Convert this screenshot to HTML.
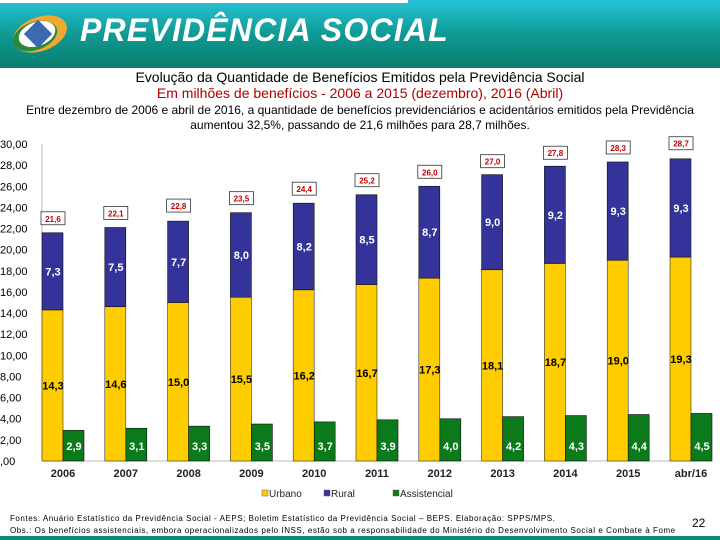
<!DOCTYPE html>
<html><head><meta charset="utf-8"><style>
body{margin:0;width:720px;height:540px;overflow:hidden;background:#fff;font-family:"Liberation Sans",sans-serif;position:relative}
.hdr{position:absolute;left:0;top:0;width:720px;height:68px;background:linear-gradient(#27c4d6,#0f9a94 50%,#0a7d6e)}
.t{position:absolute;width:720px;text-align:center}
</style></head><body>
<div class="hdr">
<div style="position:absolute;left:0;top:0;width:408px;height:3px;background:#fff"></div>
<svg width="75" height="68" style="position:absolute;left:0;top:0">
<ellipse cx="40" cy="34" rx="28" ry="17" fill="#f0a830" transform="rotate(-20 40 34)"/>
<ellipse cx="35" cy="36" rx="23" ry="14" fill="#2a8a3a" transform="rotate(-20 35 36)"/>
<ellipse cx="37" cy="34" rx="19" ry="12" fill="#fff" transform="rotate(-20 37 34)"/>
<rect x="28" y="24" width="20" height="20" fill="#3a6ab0" transform="rotate(45 38 34)"/>
</svg>
<div style="position:absolute;left:80px;top:12px;font-size:32px;font-weight:bold;font-style:italic;color:#fff;letter-spacing:1.2px">PREVIDÊNCIA SOCIAL</div>
</div>
<div class="t" style="top:69px;font-size:14px;color:#000">Evolução da Quantidade de Benefícios Emitidos pela Previdência Social</div>
<div class="t" style="top:85px;font-size:14px;color:#b00000">Em milhões de benefícios - 2006 a 2015 (dezembro), 2016 (Abril)</div>
<div class="t" style="top:103px;font-size:12px;color:#000;line-height:15px">Entre dezembro de 2006 e abril de 2016, a quantidade de benefícios previdenciários e acidentários emitidos pela Previdência<br>aumentou 32,5%, passando de 21,6 milhões para 28,7 milhões.</div>
<svg id="chart" width="720" height="540" style="position:absolute;left:0;top:0"></svg>
<div style="position:absolute;left:10px;top:513px;font-size:8px;line-height:12px;color:#000;letter-spacing:0.55px;white-space:nowrap">Fontes: Anuário Estatístico da Previdência Social - AEPS; Boletim Estatístico da Previdência Social – BEPS. Elaboração: SPPS/MPS.<br>Obs.: Os benefícios assistenciais, embora operacionalizados pelo INSS, estão sob a responsabilidade do Ministério do Desenvolvimento Social e Combate à Fome</div>
<div style="position:absolute;left:692px;top:516px;font-size:12px">22</div>
<div style="position:absolute;left:0;top:536px;width:720px;height:4px;background:#0a8a78"></div>
<script>
const categories=["2006","2007","2008","2009","2010","2011","2012","2013","2014","2015","abr/16"];
const urbano=[14.3,14.6,15.0,15.5,16.2,16.7,17.3,18.1,18.7,19.0,19.3];
const rural=[7.3,7.5,7.7,8.0,8.2,8.5,8.7,9.0,9.2,9.3,9.3];
const assistencial=[2.9,3.1,3.3,3.5,3.7,3.9,4.0,4.2,4.3,4.4,4.5];
const totals=[21.6,22.1,22.8,23.5,24.4,25.2,26.0,27.0,27.8,28.3,28.7];
const yTicks=[0,2,4,6,8,10,12,14,16,18,20,22,24,26,28,30];
const svg=document.getElementById('chart');const NS='http://www.w3.org/2000/svg';
const y=v=>461-v*(317/30);
const x=i=>42+i*62.8;
const fmt=v=>v.toFixed(1).replace('.',',');
function mk(t,a,txt){const e=document.createElementNS(NS,t);for(const k in a)e.setAttribute(k,a[k]);if(txt!==undefined)e.textContent=txt;svg.appendChild(e);return e;}
let ax=mk('line',{x1:42,y1:y(30),x2:42,y2:461,stroke:'#bbb'});

let bx=mk('line',{x1:42,y1:461,x2:712,y2:461,stroke:'#bbb'});

yTicks.forEach(v=>{const s=v===0?',00':v.toFixed(2).replace('.',',');
const t=mk('text',{x:0,y:y(v)+4,'font-size':11,fill:'#000'},s);
});
categories.forEach((c,i)=>{const L=x(i);
const tc=mk('text',{x:L+21,y:477,'font-size':11,'font-weight':'bold','text-anchor':'middle',fill:'#222'},c);

const bu=mk('rect',{x:L,y:y(urbano[i]),width:21,height:461-y(urbano[i]),fill:'#ffcc00',stroke:'#333','stroke-width':0.6});

const br=mk('rect',{x:L,y:y(urbano[i]+rural[i]),width:21,height:y(urbano[i])-y(urbano[i]+rural[i]),fill:'#333399',stroke:'#111','stroke-width':0.6});

const ba=mk('rect',{x:L+21,y:y(assistencial[i]),width:21,height:461-y(assistencial[i]),fill:'#0a7a1a',stroke:'#111','stroke-width':0.6});

const lu=mk('text',{x:L+11,y:y(urbano[i]/2)+4,'font-size':11,'font-weight':'bold','text-anchor':'middle',fill:'#000'},fmt(urbano[i]));

const lr=mk('text',{x:L+11,y:y(urbano[i]+rural[i]/2)+4,'font-size':11,'font-weight':'bold','text-anchor':'middle',fill:'#fff'},fmt(rural[i]));

const la=mk('text',{x:L+32,y:450,'font-size':11,'font-weight':'bold','text-anchor':'middle',fill:'#fff'},fmt(assistencial[i]));

const tb=mk('rect',{x:L-1,y:y(totals[i])-21,width:24,height:13,fill:'#fff',stroke:'#333','stroke-width':0.8});

const tt=mk('text',{x:L+11,y:y(totals[i])-11,'font-size':8,'font-weight':'bold','text-anchor':'middle',fill:'#c00000'},fmt(totals[i]));
});
const leg=[["Urbano","#ffcc00",262],["Rural","#333399",324],["Assistencial","#0a7a1a",393]];
leg.forEach(l=>{const r=mk('rect',{x:l[2],y:490,width:6,height:6,fill:l[1],stroke:'#666','stroke-width':0.5});

const t=mk('text',{x:l[2]+7,y:497,'font-size':10,fill:'#222'},l[0]);
});
</script>
</body></html>
